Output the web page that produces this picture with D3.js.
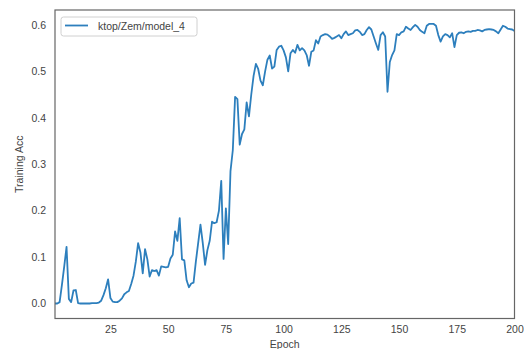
<!DOCTYPE html>
<html>
<head>
<meta charset="utf-8">
<script src="https://d3js.org/d3.v7.min.js"></script>
<style>
  body { margin: 0; background: #fff; }
  svg text { font-family: "Liberation Sans", Arial, sans-serif; fill: #444; }
</style>
</head>
<body>
<svg class="chart" width="524" height="349"></svg>
<script>
// training accuracy per epoch (1..200)
var epochs = d3.range(1, 201);
var trainAcc = [
  0.0, 0.0, 0.003, 0.04, 0.08, 0.122, 0.01, 0.003, 0.028, 0.029,
  0.001, 0.0, 0.0, 0.0, 0.0, 0.0, 0.001, 0.001, 0.001, 0.002,
  0.006, 0.018, 0.033, 0.052, 0.012, 0.004, 0.003, 0.003, 0.006, 0.011,
  0.02, 0.024, 0.027, 0.042, 0.06, 0.09, 0.13, 0.11, 0.065, 0.117,
  0.095, 0.058, 0.072, 0.07, 0.072, 0.06, 0.08, 0.079, 0.078, 0.079,
  0.097, 0.105, 0.155, 0.135, 0.184, 0.095, 0.093, 0.05, 0.035, 0.043,
  0.045, 0.09, 0.13, 0.17, 0.13, 0.083, 0.115, 0.135, 0.176, 0.173,
  0.175, 0.2, 0.264, 0.096, 0.205, 0.128, 0.285, 0.33, 0.445, 0.44,
  0.342, 0.365, 0.375, 0.433, 0.403, 0.45, 0.49, 0.516, 0.505, 0.48,
  0.47, 0.5, 0.525, 0.534, 0.506, 0.51, 0.546, 0.553, 0.555, 0.545,
  0.53, 0.5, 0.539, 0.546, 0.54, 0.557, 0.545, 0.55, 0.545, 0.535,
  0.512, 0.542, 0.545, 0.567, 0.56, 0.575, 0.578, 0.58, 0.579, 0.575,
  0.57, 0.572, 0.575, 0.578, 0.571, 0.58, 0.586, 0.578, 0.58, 0.582,
  0.588, 0.589, 0.585, 0.578, 0.58, 0.589, 0.595, 0.59, 0.575, 0.56,
  0.546, 0.578, 0.584, 0.575, 0.456, 0.52, 0.535, 0.545, 0.58, 0.578,
  0.584, 0.586, 0.596, 0.592, 0.589, 0.595, 0.6, 0.596, 0.589, 0.585,
  0.582, 0.598, 0.602, 0.602, 0.602, 0.598, 0.578, 0.564, 0.575, 0.58,
  0.578, 0.573, 0.582, 0.552, 0.578, 0.583, 0.584, 0.582, 0.585, 0.586,
  0.585, 0.587, 0.587, 0.589, 0.588, 0.586, 0.589, 0.59, 0.591, 0.59,
  0.589, 0.586, 0.582, 0.59, 0.598, 0.596, 0.592, 0.591, 0.59, 0.587
];
var xTicks = [25, 50, 75, 100, 125, 150, 175, 200];
var yTicks = [0.0, 0.1, 0.2, 0.3, 0.4, 0.5, 0.6];
var seriesName = 'ktop/Zem/model_4';

var svg = d3.select('.chart');
var margin = {t: 10, r: 9.5, b: 30.5, l: 55};
var width = 524 - margin.l - margin.r;
var height = 349 - margin.t - margin.b;

var chartG = svg.append('g')
    .attr('transform', 'translate(' + margin.l + ',' + margin.t + ')');

var xScale = d3.scaleLinear().domain([1, 200]).range([0, width]);
var yScale = d3.scaleLinear().domain([-0.0323, 0.632]).range([height, 0]);

// axes (no tick marks, seaborn white style)
var xAxis = d3.axisBottom(xScale).tickValues(xTicks).tickSize(0).tickPadding(7);
chartG.append('g').attr('class', 'x axis')
    .attr('transform', 'translate(0,' + height + ')')
    .call(xAxis)
    .call(function(g) { g.select('.domain').remove(); })
    .selectAll('text').style('font-size', '10.5px').attr('fill', '#444');

var yAxis = d3.axisLeft(yScale).tickValues(yTicks).tickSize(0).tickPadding(9)
    .tickFormat(d3.format('.1f'));
chartG.append('g').attr('class', 'y axis')
    .call(yAxis)
    .call(function(g) { g.select('.domain').remove(); })
    .selectAll('text').style('font-size', '10.5px').attr('fill', '#444');

// the line
var line = d3.line()
    .x(function(d, i) { return xScale(epochs[i]); })
    .y(function(d) { return yScale(d); });

chartG.append('path')
    .datum(trainAcc)
    .attr('fill', 'none')
    .attr('stroke', '#2d7fbd')
    .attr('stroke-width', 1.8)
    .attr('stroke-linejoin', 'round')
    .attr('d', line);

// frame
chartG.append('rect')
    .attr('width', width).attr('height', height)
    .attr('fill', 'none')
    .attr('stroke', '#666')
    .attr('stroke-width', 1.2);

// axis labels
svg.append('text')
    .attr('x', margin.l + width / 2)
    .attr('y', 347.5)
    .attr('text-anchor', 'middle')
    .style('font-size', '10.5px')
    .text('Epoch');

svg.append('text')
    .attr('transform', 'translate(23,' + (margin.t + height / 2) + ') rotate(-90)')
    .attr('text-anchor', 'middle')
    .style('font-size', '10.5px')
    .text('Training Acc');

// legend
var legend = chartG.append('g').attr('transform', 'translate(6,7)');
legend.append('rect')
    .attr('width', 136).attr('height', 19)
    .attr('rx', 2.5)
    .attr('fill', '#fff')
    .attr('stroke', '#d0d0d0');
legend.append('line')
    .attr('x1', 4).attr('x2', 27)
    .attr('y1', 8.5).attr('y2', 8.5)
    .attr('stroke', '#2d7fbd')
    .attr('stroke-width', 1.8);
legend.append('text')
    .attr('x', 37).attr('y', 12.5)
    .style('font-size', '10.5px')
    .text(seriesName);
</script>
</body>
</html>
